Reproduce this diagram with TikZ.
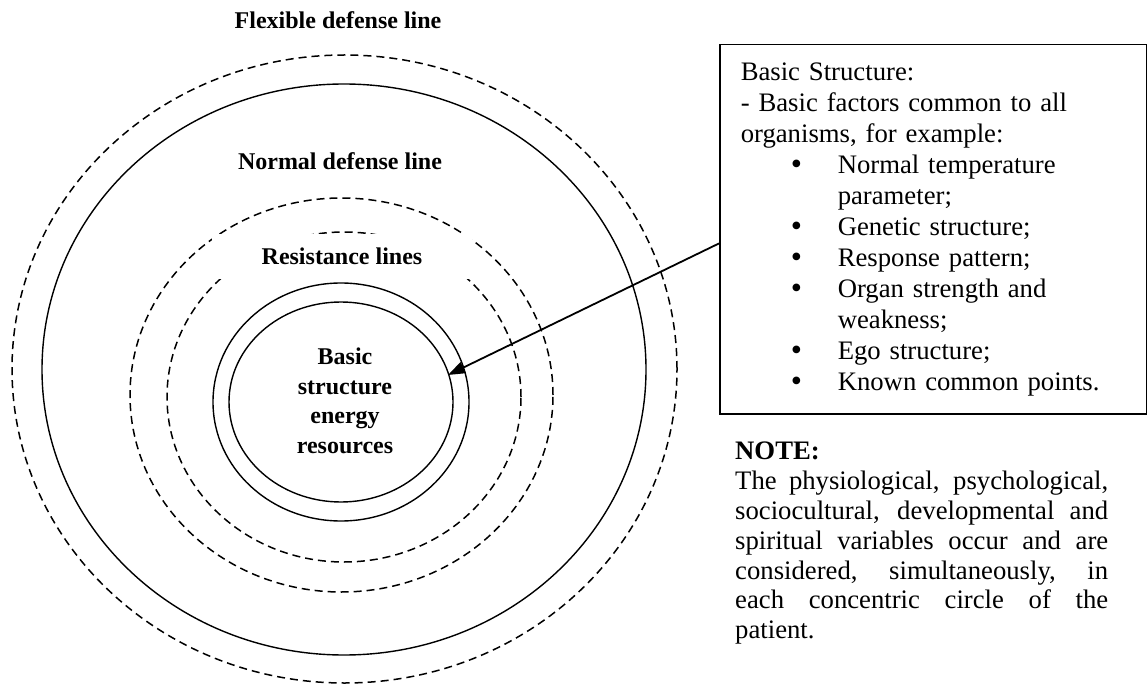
\documentclass[tikz,border=0pt]{standalone}
\usepackage{fontspec}
\setmainfont{Liberation Serif}
\usetikzlibrary{arrows.meta,positioning}
\definecolor{ink}{HTML}{000000}
\newcommand{\bigdot}{\hspace*{50pt}\makebox[47pt][l]{\smash{\raisebox{-1.5pt}{\fontsize{32}{31}\selectfont\textbullet}}}}
\tikzset{
  ringsolid/.style={ink,line width=1.4pt},
  ringdash/.style={ink,line width=1.5pt,dash pattern=on 8pt off 5pt},
  ringlabel/.style={font=\fontsize{24}{29.5}\selectfont\bfseries,inner sep=0pt}
}
\begin{document}
\begin{tikzpicture}[x=1pt,y=-1pt]
  \useasboundingbox (0,0) rectangle (1147,684);
  % defense lines
  \draw[ringdash] (344.5,369) ellipse [x radius=332.5pt, y radius=314pt];
  \draw[ringsolid] (344,369.5) ellipse [x radius=302pt, y radius=285.5pt];
  \draw[ringdash] (341.5,395) ellipse [x radius=211.5pt, y radius=197pt];
  \draw[ringdash] (344,397) ellipse [x radius=177pt, y radius=165pt];
  % basic structure
  \draw[ringsolid] (341,402) ellipse [x radius=128pt, y radius=119pt];
  \draw[ringsolid] (341,402) ellipse [x radius=112pt, y radius=100pt];
  \node[ringlabel,anchor=base] (flex) at (338,29) {Flexible defense line};
  \node[ringlabel,anchor=base] (normal) at (340,170) {Normal defense line};
  \node[ringlabel,fill=white,minimum width=260pt,minimum height=45pt] (resist) at (342,256.5) {Resistance lines};
  \node[ringlabel,align=center] (core) at (345,401) {Basic\\structure\\energy\\resources};
  % structure box
  \node[draw,ink,line width=1.5pt,anchor=north west,inner xsep=21pt,inner ysep=18pt,
        text width=385pt,align=left,font=\fontsize{26.7}{31}\selectfont] (struct) at (719,44)
    {Basic Structure:\\
     - Basic factors common to all\\
     organisms, for example:\\
     \bigdot Normal temperature\\
     \hspace*{97pt}parameter;\\
     \bigdot Genetic structure;\\
     \bigdot Response pattern;\\
     \bigdot Organ strength and\\
     \hspace*{97pt}weakness;\\
     \bigdot Ego structure;\\
     \bigdot Known common points.};
  \coordinate (tip) at (448,375);
  \draw[ink,line width=1.8pt,-{Triangle[length=17pt,width=12pt]}] ([yshift=-14pt]struct.west) -- (tip);
  % note
  \node[anchor=north west,inner sep=0pt,text width=373pt,align=justify,
        font=\fontsize{26.7}{29.8}\selectfont] (note) at (735,442)
    {\textbf{NOTE:}\\
     The physiological, psychological,\linebreak
     sociocultural, developmental and\linebreak
     spiritual variables occur and are\linebreak
     considered, simultaneously, in\linebreak
     each concentric circle of the\linebreak
     patient.};
\end{tikzpicture}
\end{document}
